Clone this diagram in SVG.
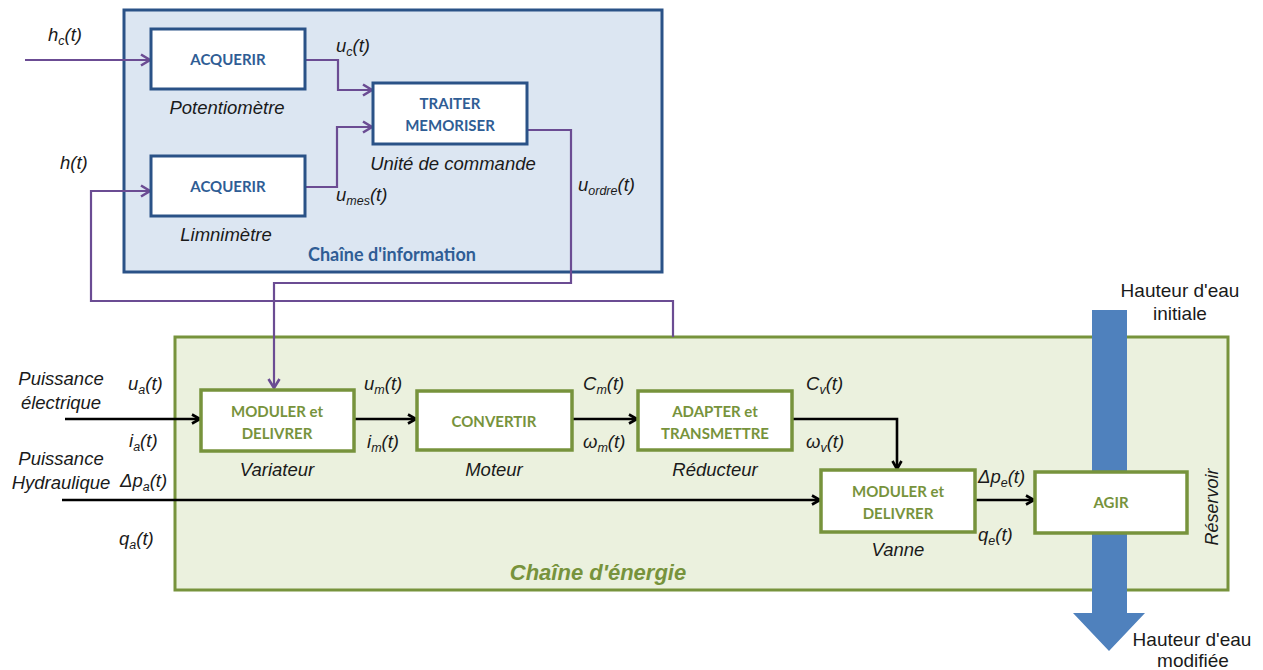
<svg xmlns="http://www.w3.org/2000/svg" width="1263" height="670" viewBox="0 0 1263 670">
<defs>
<marker id="ap" markerUnits="userSpaceOnUse" markerWidth="14" markerHeight="14" refX="11" refY="7" orient="auto">
<path d="M2,1.5 L11,7 L2,12.5" fill="none" stroke="#6b4c93" stroke-width="2.6"/>
</marker>
<marker id="ab" markerUnits="userSpaceOnUse" markerWidth="14" markerHeight="14" refX="11" refY="7" orient="auto">
<path d="M3,2.5 L11,7 L3,11.5" fill="none" stroke="#000" stroke-width="2.6"/>
</marker>
<style>
.t{font-family:"Liberation Sans",Arial,sans-serif;font-size:18.5px;font-style:italic;fill:#1a1a1a}
.s{font-size:12.5px}
.r{font-family:"Liberation Sans",Arial,sans-serif;font-size:19px;fill:#1a1a1a}
.bb{font-family:Lato,"Open Sans",sans-serif;font-size:15px;font-weight:bold;fill:#2f5d95;text-anchor:middle}
.gb{font-family:Lato,"Open Sans",sans-serif;font-size:15px;font-weight:bold;fill:#77933c;text-anchor:middle}
.bx{fill:#fff;stroke:#2a5287;stroke-width:3}
.gx{fill:#fff;stroke:#77933c;stroke-width:3.5}
.pl{fill:none;stroke:#6b4c93;stroke-width:2.2}
.kl{fill:none;stroke:#000;stroke-width:2.6}
</style>
</defs>

<g id="chaine-information">
<rect x="124" y="10" width="538" height="262" fill="#dce6f2" stroke="#2a5287" stroke-width="3"/>
<text x="392" y="261" style="font-family:Lato,'Open Sans',sans-serif;font-size:18px;font-weight:bold;fill:#2f5d95" text-anchor="middle">Chaîne d'information</text>
</g>

<g id="chaine-energie">
<rect x="175" y="337" width="1053" height="253" fill="#ebf1de" stroke="#77933c" stroke-width="3"/>
<text x="598" y="580" text-anchor="middle" style="font-family:'Liberation Sans',Arial,sans-serif;font-size:22px;font-weight:bold;font-style:italic;fill:#77933c">Chaîne d'énergie</text>
<text transform="translate(1218,507) rotate(-90)" text-anchor="middle" class="t" style="font-size:18px">Réservoir</text>
</g>

<g id="hauteur-eau">
<path d="M1092,310 H1127 V613 H1145 L1109,651 L1073,613 H1092 Z" fill="#4f81bd"/>
<text x="1180" y="297" text-anchor="middle" class="r">Hauteur d'eau</text>
<text x="1180" y="320" text-anchor="middle" class="r">initiale</text>
<text x="1192" y="646" text-anchor="middle" class="r">Hauteur d'eau</text>
<text x="1193" y="667" text-anchor="middle" class="r">modifiée</text>
</g>

<g id="connectors">
<path class="pl" d="M25,60 H150" marker-end="url(#ap)"/>
<path class="pl" d="M305,60 H338 V90 H372" marker-end="url(#ap)"/>
<path class="pl" d="M305,187 H337 V127 H372" marker-end="url(#ap)"/>
<path class="pl" d="M673,337 V301 H91 V191 H150" marker-end="url(#ap)"/>
<path class="pl" d="M527,130 H571 V283 H274 V388" marker-end="url(#ap)"/>
<path class="kl" d="M65,419 H200" marker-end="url(#ab)"/>
<path class="kl" d="M354,419 H416" marker-end="url(#ab)"/>
<path class="kl" d="M572,419 H637" marker-end="url(#ab)"/>
<path class="kl" d="M792,419 H897 V469" marker-end="url(#ab)"/>
<path class="kl" d="M62,500 H820" marker-end="url(#ab)"/>
<path class="kl" d="M975,500 H1034" marker-end="url(#ab)"/>
</g>

<g id="acquerir-potentiometre">
<rect class="bx" x="151" y="29" width="154" height="60"/>
<text class="bb" x="228" y="65">ACQUERIR</text>
<text class="t" x="227" y="114" text-anchor="middle">Potentiomètre</text>
</g>

<g id="acquerir-limnimetre">
<rect class="bx" x="151" y="156" width="154" height="60"/>
<text class="bb" x="228" y="192">ACQUERIR</text>
<text class="t" x="226" y="241" text-anchor="middle">Limnimètre</text>
</g>

<g id="traiter-memoriser">
<rect class="bx" x="373" y="83" width="154" height="61"/>
<text class="bb" x="450" y="109">TRAITER</text>
<text class="bb" x="450" y="131">MEMORISER</text>
<text class="t" x="453" y="170" text-anchor="middle">Unité de commande</text>
</g>

<g id="variateur">
<rect class="gx" x="201" y="390" width="153" height="61"/>
<text class="gb" x="277" y="417">MODULER et</text>
<text class="gb" x="277" y="439">DELIVRER</text>
<text class="t" x="277" y="476" text-anchor="middle">Variateur</text>
</g>

<g id="moteur">
<rect class="gx" x="417" y="391" width="155" height="59"/>
<text class="gb" x="494" y="427">CONVERTIR</text>
<text class="t" x="494" y="476" text-anchor="middle">Moteur</text>
</g>

<g id="reducteur">
<rect class="gx" x="638" y="391" width="154" height="59"/>
<text class="gb" x="715" y="417">ADAPTER et</text>
<text class="gb" x="715" y="439">TRANSMETTRE</text>
<text class="t" x="715" y="476" text-anchor="middle">Réducteur</text>
</g>

<g id="vanne">
<rect class="gx" x="821" y="470" width="154" height="62"/>
<text class="gb" x="898" y="497">MODULER et</text>
<text class="gb" x="898" y="519">DELIVRER</text>
<text class="t" x="898" y="556" text-anchor="middle">Vanne</text>
</g>

<g id="agir">
<rect class="gx" x="1035" y="472" width="152" height="61"/>
<text class="gb" x="1111" y="508">AGIR</text>
</g>

<g id="labels">
<text class="t" x="48" y="41">h<tspan class="s" dy="4">c</tspan><tspan dy="-4">(t)</tspan></text>
<text class="t" x="336" y="52">u<tspan class="s" dy="4">c</tspan><tspan dy="-4">(t)</tspan></text>
<text class="t" x="60" y="169">h(t)</text>
<text class="t" x="336" y="201">u<tspan class="s" dy="4">mes</tspan><tspan dy="-4">(t)</tspan></text>
<text class="t" x="578" y="191">u<tspan class="s" dy="4">ordre</tspan><tspan dy="-4">(t)</tspan></text>
<text class="t" x="61" y="385" text-anchor="middle">Puissance</text>
<text class="t" x="61" y="409" text-anchor="middle">électrique</text>
<text class="t" x="61" y="465" text-anchor="middle">Puissance</text>
<text class="t" x="61" y="489" text-anchor="middle">Hydraulique</text>
<text class="t" x="128" y="390">u<tspan class="s" dy="4">a</tspan><tspan dy="-4">(t)</tspan></text>
<text class="t" x="129" y="447">i<tspan class="s" dy="4">a</tspan><tspan dy="-4">(t)</tspan></text>
<text class="t" x="120" y="487">Δp<tspan class="s" dy="4">a</tspan><tspan dy="-4">(t)</tspan></text>
<text class="t" x="119" y="545">q<tspan class="s" dy="4">a</tspan><tspan dy="-4">(t)</tspan></text>
<text class="t" x="364" y="390">u<tspan class="s" dy="4">m</tspan><tspan dy="-4">(t)</tspan></text>
<text class="t" x="367" y="448">i<tspan class="s" dy="4">m</tspan><tspan dy="-4">(t)</tspan></text>
<text class="t" x="583" y="390">C<tspan class="s" dy="4">m</tspan><tspan dy="-4">(t)</tspan></text>
<text class="t" x="583" y="448">ω<tspan class="s" dy="4">m</tspan><tspan dy="-4">(t)</tspan></text>
<text class="t" x="806" y="390">C<tspan class="s" dy="4">v</tspan><tspan dy="-4">(t)</tspan></text>
<text class="t" x="806" y="448">ω<tspan class="s" dy="4">v</tspan><tspan dy="-4">(t)</tspan></text>
<text class="t" x="978" y="483">Δp<tspan class="s" dy="4">e</tspan><tspan dy="-4">(t)</tspan></text>
<text class="t" x="978" y="541">q<tspan class="s" dy="4">e</tspan><tspan dy="-4">(t)</tspan></text>
</g>
</svg>
